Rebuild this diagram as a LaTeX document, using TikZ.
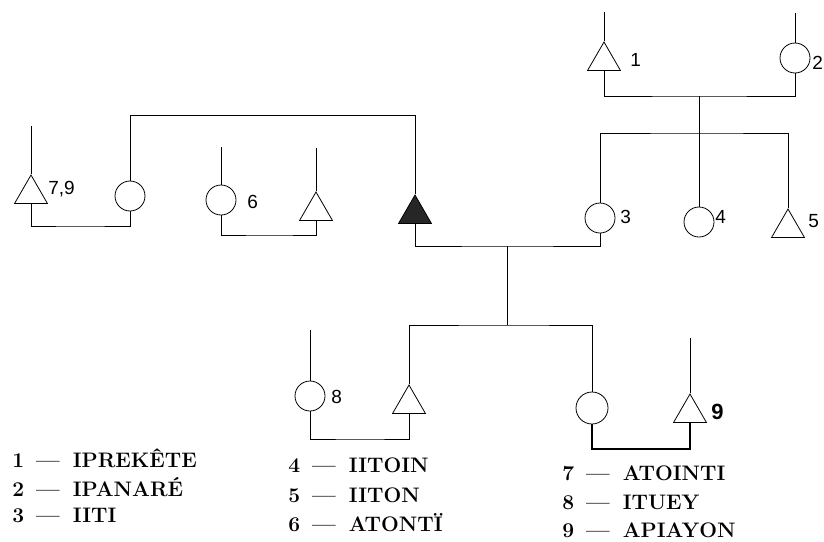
\documentclass[tikz,border=0pt]{standalone}
\usepackage{fontspec}
\newfontfamily\numfont{Liberation Sans}
\usetikzlibrary{shapes.geometric}
\newcommand\voce[2]{#1\hspace{12pt}---\hspace{13pt}#2}
\tikzset{
  maschio/.style={draw,regular polygon,regular polygon sides=3,minimum size=38pt,inner sep=0pt},
  femmina/.style={draw,circle,minimum size=30pt,inner sep=0pt},
  lbl/.style={anchor=west,inner sep=0pt,font=\numfont\fontsize{19}{19}\selectfont},
  legenda/.style={anchor=west,inner sep=0pt,font=\bfseries\fontsize{21}{24}\selectfont},
}
\begin{document}
\begin{tikzpicture}[x=1pt,y=-1pt,line width=0.8pt]
        \useasboundingbox (0,0) rectangle (824,541);
        % --- generazione 1: 1 e 2 ---
        \node[maschio] (i1) at (604,61) {};
        \node[femmina] (i2) at (795,58) {};
        \draw (i1.north) -- ++(0,-29)  (i2.north) -- ++(0,-30);
        \node[lbl] (l1) at (630,60) {1};
        \node[lbl] (l2) at (812,63) {2};
        \coordinate (m12) at (699,96);
        \coordinate (s12) at (699,133);
        \draw (i1.south) |- (m12) -| (i2.south);
        \draw (m12) -- (s12);
        % --- generazione 2 ---
        \node[maschio] (t79) at (31,194) {};
        \node[femmina] (w79) at (130,196) {};
        \node[femmina] (c6) at (221,200) {};
        \node[maschio] (h6) at (316,211) {};
        \node[maschio,fill=black!85] (ego) at (415,214) {};
        \node[femmina] (i3) at (600,218) {};
        \node[femmina] (i4) at (699,222) {};
        \node[maschio] (i5) at (788,228) {};
        \draw (t79.north) -- ++(0,-48)  (c6.north) -- ++(0,-38)  (h6.north) -- ++(0,-43);
        \node[lbl] (l79) at (48,189) {7,9};
        \node[lbl] (l6) at (247,202) {6};
        \node[lbl] (l3) at (620,217) {3};
        \node[lbl] (l4) at (715,217) {4};
        \node[lbl] (l5) at (808,221) {5};
        \draw (i3.north) |- (s12) -| (i5.north);
        \draw (i4.north) -- (s12);
        \coordinate (fr) at (415,115);
        \draw (w79.north) |- (fr) -- (ego.north);
        \coordinate (m79) at (80,226);
        \draw (t79.south) |- (m79) -| (w79.south);
        \coordinate (m6) at (270,235);
        \draw (c6.south) |- (m6) -| (h6.south);
        \coordinate (mego) at (507,246);
        \coordinate (sego) at (507,325);
        \draw (ego.south) |- (mego) -| (i3.south);
        \draw (mego) -- (sego);
        % --- generazione 3 ---
        \node[femmina] (i8) at (310,396) {};
        \node[maschio] (son) at (409,404) {};
        \node[femmina,minimum size=32pt] (dau) at (592,408) {};
        \node[maschio] (i9) at (690,413) {};
        \draw (i8.north) -- ++(0,-51)  (i9.north) -- ++(0,-55);
        \node[lbl] (l8) at (331,397) {8};
        \node[lbl,font=\numfont\bfseries\fontsize{22}{22}\selectfont] (l9) at (711,412) {9};
        \draw (son.north) |- (sego) -| (dau.north);
        \coordinate (m8) at (360,439);
        \draw (i8.south) |- (m8) -| (son.south);
        \coordinate (m9) at (640,449);
        \draw[line width=1.4pt] (dau.south) |- (m9) -| (i9.south);
        % --- legenda ---
        \node[legenda] (n1) at (12,458) {\voce{1}{IPREKÊTE}};
        \node[legenda] (n2) at (12,487) {\voce{2}{IPANARÉ}};
        \node[legenda] (n3) at (12,515) {\voce{3}{IITI}};
        \node[legenda] (n4) at (288,465) {\voce{4}{IITOIN}};
        \node[legenda] (n5) at (288,495) {\voce{5}{IITON}};
        \node[legenda] (n6) at (288,523) {\voce{6}{ATONTÏ}};
        \node[legenda] (n7) at (562,473) {\voce{7}{ATOINTI}};
        \node[legenda] (n8) at (562,502) {\voce{8}{ITUEY}};
        \node[legenda] (n9) at (562,530) {\voce{9}{APIAYON}};
\end{tikzpicture}
\end{document}
